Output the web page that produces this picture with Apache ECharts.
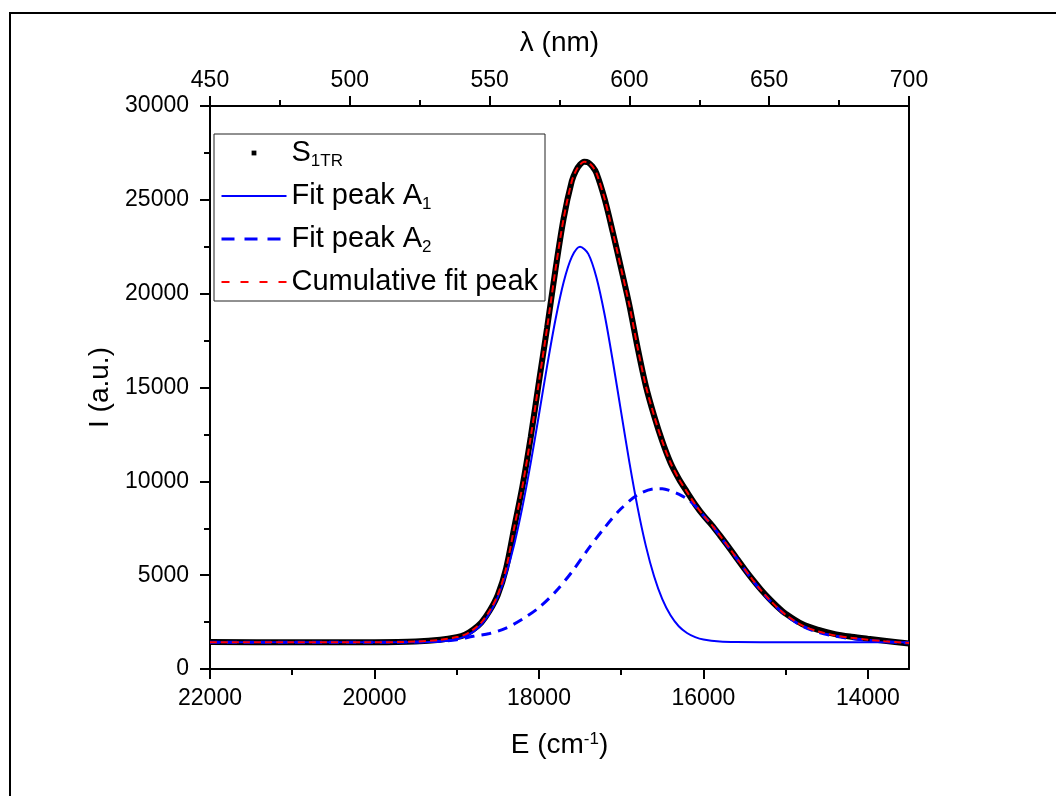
<!DOCTYPE html>
<html>
<head>
<meta charset="utf-8">
<script src="https://cdn.jsdelivr.net/npm/echarts@6/dist/echarts.min.js"></script>
<style>
html,body{margin:0;padding:0;background:#fff;}
#chart{width:1056px;height:796px;}
</style>
</head>
<body>
<div id="chart"></div>
<script>
// ---------- data ----------
const seriesNames = ['S1TR', 'Fit peak A1', 'Fit peak A2', 'Cumulative fit peak'];
const legendLabels = ['S{sub|1TR}', 'Fit peak A{sub|1}', 'Fit peak A{sub|2}', 'Cumulative fit peak'];

const bottomTickValues = [14000, 16000, 18000, 20000, 22000];
const bottomMinorTickValues = [15000, 17000, 19000, 21000];

// S1TR measured spectrum (E in cm^-1, intensity a.u.)
const energyS1 = [22000, 21000, 20000, 19500, 19200, 19000, 18900, 18800, 18700, 18600, 18500, 18400, 18300, 18200, 18100, 18000, 17900, 17800, 17700, 17600, 17550, 17500, 17450, 17400, 17350, 17300, 17200, 17100, 17000, 16900, 16800, 16700, 16600, 16500, 16400, 16300, 16200, 16100, 16000, 15900, 15800, 15700, 15600, 15500, 15400, 15300, 15200, 15100, 15000, 14800, 14600, 14400, 14200, 14000, 13800, 13500];
const intensityS1 = [1440, 1420, 1430, 1470, 1560, 1700, 1830, 2100, 2480, 3100, 3950, 5350, 7550, 9750, 12350, 15300, 18200, 21250, 24000, 26000, 26550, 26880, 27030, 26990, 26780, 26420, 25030, 23240, 21330, 19380, 17120, 15080, 13500, 12130, 10990, 10140, 9440, 8770, 8180, 7680, 7120, 6540, 5930, 5330, 4760, 4230, 3750, 3320, 2950, 2400, 2085, 1860, 1720, 1610, 1510, 1354];

// Fit peak A1
const energyA1 = [22000, 20000, 19500, 19200, 19000, 18900, 18800, 18700, 18600, 18500, 18400, 18300, 18200, 18100, 18000, 17900, 17800, 17700, 17600, 17500, 17400, 17300, 17200, 17100, 17000, 16900, 16800, 16700, 16600, 16500, 16400, 16300, 16200, 16100, 16000, 15800, 15600, 15000, 14000, 13500];
const intensityA1 = [1420, 1420, 1430, 1470, 1590, 1740, 1980, 2370, 2970, 3840, 5050, 6650, 8650, 10980, 13550, 16170, 18600, 20610, 21960, 22500, 22120, 20850, 18850, 16360, 13670, 11010, 8600, 6560, 4940, 3720, 2860, 2280, 1920, 1700, 1570, 1460, 1435, 1430, 1430, 1430];

// Fit peak A2
const energyA2 = [22000, 20000, 19500, 19200, 19000, 18800, 18600, 18400, 18200, 18000, 17800, 17600, 17400, 17200, 17000, 16800, 16600, 16500, 16400, 16300, 16200, 16100, 16000, 15900, 15800, 15600, 15400, 15200, 15000, 14800, 14600, 14400, 14200, 14000, 13800, 13500];
const intensityA2 = [1420, 1420, 1440, 1480, 1560, 1740, 1890, 2180, 2660, 3270, 4110, 5170, 6400, 7540, 8550, 9280, 9600, 9610, 9500, 9320, 9070, 8700, 8180, 7680, 7100, 5920, 4720, 3680, 2870, 2290, 1950, 1750, 1620, 1530, 1460, 1380];

// Cumulative fit peak
const energyCum = [22000, 21000, 20000, 19500, 19200, 19000, 18900, 18800, 18700, 18600, 18500, 18400, 18300, 18200, 18100, 18000, 17900, 17800, 17700, 17600, 17550, 17500, 17450, 17400, 17350, 17300, 17200, 17100, 17000, 16900, 16800, 16700, 16600, 16500, 16400, 16300, 16200, 16100, 16000, 15900, 15800, 15700, 15600, 15500, 15400, 15300, 15200, 15100, 15000, 14800, 14600, 14400, 14200, 14000, 13800, 13500];
const intensityCum = [1430, 1420, 1420, 1460, 1550, 1700, 1830, 2100, 2480, 3100, 3950, 5350, 7550, 9750, 12350, 15300, 18200, 21250, 24000, 26000, 26550, 26880, 27030, 26990, 26780, 26420, 25030, 23240, 21330, 19380, 17120, 15080, 13500, 12130, 10990, 10140, 9440, 8770, 8180, 7680, 7120, 6540, 5930, 5330, 4750, 4200, 3710, 3270, 2890, 2320, 2000, 1790, 1660, 1560, 1480, 1380];

// ---------- chart ----------
const FONT = '"Liberation Sans", Arial, sans-serif';
const pairs = (xs, ys) => xs.map((x, i) => [x, ys[i]]);
const plain = v => String(v);

const chart = echarts.init(document.getElementById('chart'), null, {renderer: 'canvas'});

const axisLineStyle = {color: '#000', width: 2};
const labelStyle = {color: '#000', fontSize: 23, fontFamily: FONT, formatter: plain};
const nameStyle = {color: '#000', fontSize: 28, fontFamily: FONT, lineHeight: 28};

const option = {
  animation: false,
  backgroundColor: '#fff',
  textStyle: {fontFamily: FONT},
  grid: {left: 210, top: 106, width: 699, height: 563, containLabel: false},
  xAxis: [
    {
      type: 'value', position: 'bottom', min: 13500, max: 22000, inverse: true,
      name: 'E (cm{sup|-1})', nameLocation: 'middle', nameGap: 62,
      nameTextStyle: Object.assign({}, nameStyle, {
        rich: {sup: {fontSize: 17, lineHeight: 10, verticalAlign: 'top', fontFamily: FONT, color: '#000'}}
      }),
      axisLine: {show: true, onZero: false, lineStyle: axisLineStyle},
      axisTick: {show: true, inside: false, length: 10, lineStyle: axisLineStyle, customValues: bottomTickValues},
      axisLabel: Object.assign({margin: 18, customValues: bottomTickValues}, labelStyle),
      splitLine: {show: false}
    },
    {
      type: 'value', position: 'top', min: 450, max: 700, interval: 50,
      name: 'λ (nm)', nameLocation: 'middle', nameGap: 49,
      nameTextStyle: nameStyle,
      axisLine: {show: true, onZero: false, lineStyle: axisLineStyle},
      axisTick: {show: true, inside: false, length: 10, lineStyle: axisLineStyle},
      minorTick: {show: true, splitNumber: 2, length: 6, lineStyle: axisLineStyle},
      axisLabel: Object.assign({margin: 14}, labelStyle),
      splitLine: {show: false}, minorSplitLine: {show: false}
    },
    {
      type: 'value', position: 'bottom', min: 13500, max: 22000, inverse: true,
      axisLine: {show: false, onZero: false},
      axisTick: {show: true, inside: false, length: 6, lineStyle: axisLineStyle, customValues: bottomMinorTickValues},
      axisLabel: {show: false},
      splitLine: {show: false}
    }
  ],
  yAxis: [
    {
      type: 'value', position: 'left', min: 0, max: 30000, interval: 5000,
      name: 'I (a.u.)', nameLocation: 'middle', nameGap: 92,
      nameTextStyle: nameStyle,
      axisLine: {show: true, onZero: false, lineStyle: axisLineStyle},
      axisTick: {show: true, inside: false, length: 10, lineStyle: axisLineStyle},
      minorTick: {show: true, splitNumber: 2, length: 6, lineStyle: axisLineStyle},
      axisLabel: Object.assign({margin: 21}, labelStyle),
      splitLine: {show: false}, minorSplitLine: {show: false}
    },
    {
      type: 'value', position: 'right', min: 0, max: 30000,
      axisLine: {show: true, onZero: false, lineStyle: axisLineStyle},
      axisTick: {show: false}, axisLabel: {show: false}, splitLine: {show: false}
    }
  ],
  legend: {
    orient: 'vertical', left: 220, top: 136, padding: 0,
    itemWidth: 65, itemHeight: 6, itemGap: 9, selectedMode: false, z: 5,
    formatter: name => legendLabels[seriesNames.indexOf(name)],
    textStyle: {
      color: '#000', fontSize: 29, fontFamily: FONT, lineHeight: 34,
      rich: {sub: {fontSize: 17, lineHeight: 14, verticalAlign: 'bottom', fontFamily: FONT, color: '#000'}}
    },
    data: [
      {name: seriesNames[0], lineStyle: {opacity: 0}, itemStyle: {color: '#000', opacity: 1}},
      {name: seriesNames[1], itemStyle: {opacity: 0}, lineStyle: {color: '#0000ff', width: 2, type: 'solid'}},
      {name: seriesNames[2], itemStyle: {opacity: 0}, lineStyle: {color: '#0000ff', width: 3, type: [13, 10]}},
      {name: seriesNames[3], itemStyle: {opacity: 0}, lineStyle: {color: '#ff0000', width: 2, type: [8, 11]}}
    ]
  },
  graphic: [
    {type: 'rect', z: 3, shape: {x: 214, y: 134, width: 331, height: 167},
     style: {fill: '#fff', stroke: '#222', lineWidth: 1}, silent: true},
    {type: 'rect', z: 10, shape: {x: 10, y: 13, width: 2000, height: 2000},
     style: {fill: 'none', stroke: '#000', lineWidth: 2}, silent: true}
  ],
  series: [
    {
      name: seriesNames[0], type: 'line', xAxisIndex: 0, yAxisIndex: 0,
      data: pairs(energyS1, intensityS1), smooth: 0.3, symbol: 'rect', showSymbol: false,
      lineStyle: {color: '#000', width: 6}, itemStyle: {color: '#000'}, silent: true, z: 2
    },
    {
      name: seriesNames[1], type: 'line', xAxisIndex: 0, yAxisIndex: 0,
      data: pairs(energyA1, intensityA1), smooth: 0.3, symbol: 'none',
      lineStyle: {color: '#0000ff', width: 2}, itemStyle: {color: '#0000ff'}, silent: true, z: 2
    },
    {
      name: seriesNames[2], type: 'line', xAxisIndex: 0, yAxisIndex: 0,
      data: pairs(energyA2, intensityA2), smooth: 0.3, symbol: 'none',
      lineStyle: {color: '#0000ff', width: 3, type: [10, 7]}, itemStyle: {color: '#0000ff'}, silent: true, z: 2
    },
    {
      name: seriesNames[3], type: 'line', xAxisIndex: 0, yAxisIndex: 0,
      data: pairs(energyCum, intensityCum), smooth: 0.3, symbol: 'none',
      lineStyle: {color: '#ff0000', width: 2, type: [7, 4]}, itemStyle: {color: '#ff0000'}, silent: true, z: 2
    }
  ]
};

chart.setOption(option);
</script>
</body>
</html>
